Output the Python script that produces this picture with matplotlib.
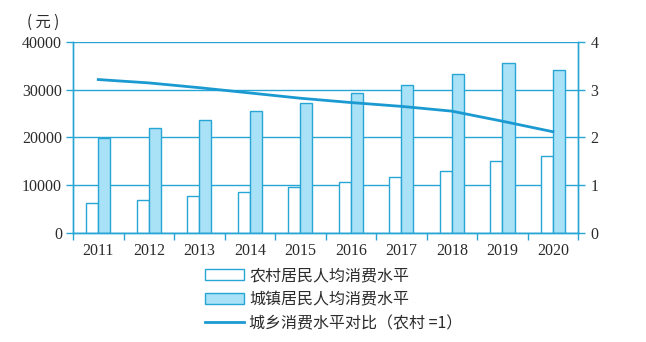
import numpy as np
import matplotlib
matplotlib.use("Agg")
import matplotlib.pyplot as plt
from matplotlib.ticker import FixedLocator
from matplotlib.patches import Patch
from matplotlib.lines import Line2D

# data
years = ["2011", "2012", "2013", "2014", "2015", "2016", "2017", "2018", "2019", "2020"]
rural = [6260, 6950, 7790, 8690, 9730, 10780, 11690, 13070, 15160, 16070]
urban = [19960, 21920, 23650, 25470, 27270, 29230, 31020, 33320, 35620, 34030]
ratio = [3.21, 3.14, 3.04, 2.93, 2.82, 2.73, 2.65, 2.55, 2.34, 2.12]

line_c = "#27a6d6"
fill_c = "#a9e1f7"
text_c = "#2b2b2b"
num_font = "Liberation Serif"
cjk_font = ["Noto Sans CJK SC", "DejaVu Sans"]

fig = plt.figure(figsize=(6.46, 3.42), dpi=100)
ax = fig.add_axes([0.113, 0.318, 0.782, 0.560])
x = np.arange(len(years))
w = 0.24

ax.bar(x - w / 2, rural, w, color="white", edgecolor=line_c, linewidth=1.0, zorder=2)
ax.bar(x + w / 2, urban, w, color=fill_c, edgecolor=line_c, linewidth=1.0, zorder=2)

ax.set_xlim(-0.5, len(years) - 0.5)
ax.set_ylim(0, 40000)
ax.set_yticks([0, 10000, 20000, 30000, 40000])
ax.yaxis.grid(True, color=line_c, linewidth=1.0)
ax.set_axisbelow(True)

ax.set_xticks(x)
ax.set_xticklabels(years)
ax.xaxis.set_minor_locator(FixedLocator(np.arange(-0.5, len(years), 1.0)))
ax.tick_params(axis="x", which="major", length=0, pad=7)
ax.tick_params(axis="x", which="minor", length=5, color=line_c, width=1.0)
ax.tick_params(axis="y", length=5, color=line_c, width=1.0, pad=3)
for s in ["left", "bottom", "right"]:
    ax.spines[s].set_color(line_c)
    ax.spines[s].set_linewidth(1.0)
ax.spines["top"].set_visible(False)

ax2 = ax.twinx()
ax2.plot(x, ratio, color="#1b9ad2", linewidth=2.0, zorder=3)
ax2.set_ylim(0, 4)
ax2.set_yticks([0, 1, 2, 3, 4])
ax2.tick_params(axis="y", length=5, color=line_c, width=1.0, pad=4)
for s in ["left", "bottom", "right"]:
    ax2.spines[s].set_color(line_c)
    ax2.spines[s].set_linewidth(1.0)
ax2.spines["top"].set_visible(False)

for a in (ax, ax2):
    for lab in a.get_xticklabels() + a.get_yticklabels():
        lab.set_fontfamily(num_font)
        lab.set_fontsize(11.5)
        lab.set_color(text_c)

fig.text(0.042, 0.935, "( 元 )", fontfamily=cjk_font, fontsize=11, color=text_c,
         va="center", ha="left")

# legend drawn with proxy handles
handles = [
    Patch(facecolor="white", edgecolor=line_c, linewidth=1.0),
    Patch(facecolor=fill_c, edgecolor=line_c, linewidth=1.0),
    Line2D([0], [0], color="#1b9ad2", linewidth=2.0),
]
labels = ["农村居民人均消费水平", "城镇居民人均消费水平", "城乡消费水平对比（农村 =1）"]
leg = fig.legend(handles, labels, loc="upper left", bbox_to_anchor=(0.318, 0.218),
                 frameon=False, prop={"family": cjk_font, "size": 11.5},
                 handlelength=2.4, handletextpad=0.35, labelspacing=0.42,
                 borderaxespad=0, borderpad=0)
for t in leg.get_texts():
    t.set_color(text_c)

fig.savefig("out.png", dpi=100)
